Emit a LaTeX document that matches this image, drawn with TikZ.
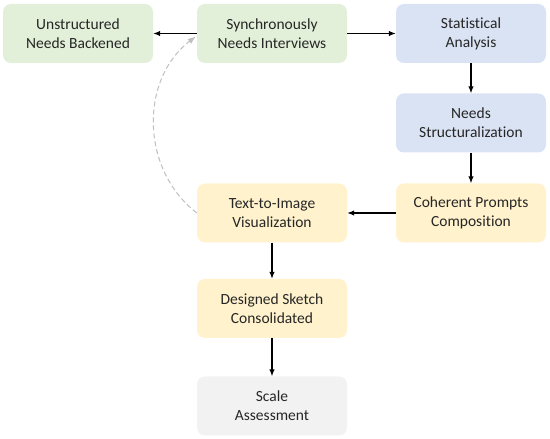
\documentclass[tikz,border=0pt]{standalone}
\usepackage{fontspec}
\setmainfont[Ligatures=CommonOff]{Carlito}
\usepackage{xcolor}
\usetikzlibrary{arrows.meta,positioning,calc}
\definecolor{textdark}{HTML}{262626}
\definecolor{greenfill}{HTML}{E2F0D9}
\definecolor{bluefill}{HTML}{DAE3F3}
\definecolor{yellowfill}{HTML}{FFF2CC}
\definecolor{grayfill}{HTML}{F2F2F2}
\definecolor{loopgray}{HTML}{BFBFBF}

\begin{document}
\begin{tikzpicture}[x=1pt, y=1pt,
  stagebox/.style={rectangle, rounded corners=8pt, draw=none, minimum width=150pt, minimum height=59pt, align=center, text=textdark, font=\fontsize{15.5}{19}\selectfont},
  flow/.style={-{Latex[length=7pt, width=5.5pt]}, line width=1.2pt, black},
  loopback/.style={-{Latex[length=8pt, width=6pt]}, loopgray, line width=1pt, dash pattern=on 5pt off 3pt}
]
\useasboundingbox (0,0) rectangle (550,439);

\node[stagebox, fill=greenfill] (unstr) at (78,405.5) {Unstructured\\Needs Backened};
\node[stagebox, fill=greenfill] (sync) at (272,405.5) {Synchronously\\Needs Interviews};
\node[stagebox, fill=bluefill] (stat) at (471,405.5) {Statistical\\Analysis};
\node[stagebox, fill=bluefill] (struct) at (471,316) {Needs\\Structuralization};
\node[stagebox, fill=yellowfill] (prompt) at (471,226) {Coherent Prompts\\Composition};
\node[stagebox, fill=yellowfill] (viz) at (272,226) {Text-to-Image\\Visualization};
\node[stagebox, fill=yellowfill] (sketch) at (272,130.5) {Designed Sketch\\Consolidated};
\node[stagebox, fill=grayfill] (scale) at (272,33) {Scale\\Assessment};

\draw[flow] (sync) -- (unstr);
\draw[flow] (sync) -- (stat);
\draw[flow] (stat) -- (struct);
\draw[flow] (struct) -- (prompt);
\draw[flow] (prompt) -- (viz);
\draw[flow] (viz) -- (sketch);
\draw[flow] (sketch) -- (scale);

% feedback to the interviews
\draw[loopback] (viz.west) .. controls (140,270) and (140,360) .. ($(sync.west)+(-1,-3)$);
\end{tikzpicture}
\end{document}
